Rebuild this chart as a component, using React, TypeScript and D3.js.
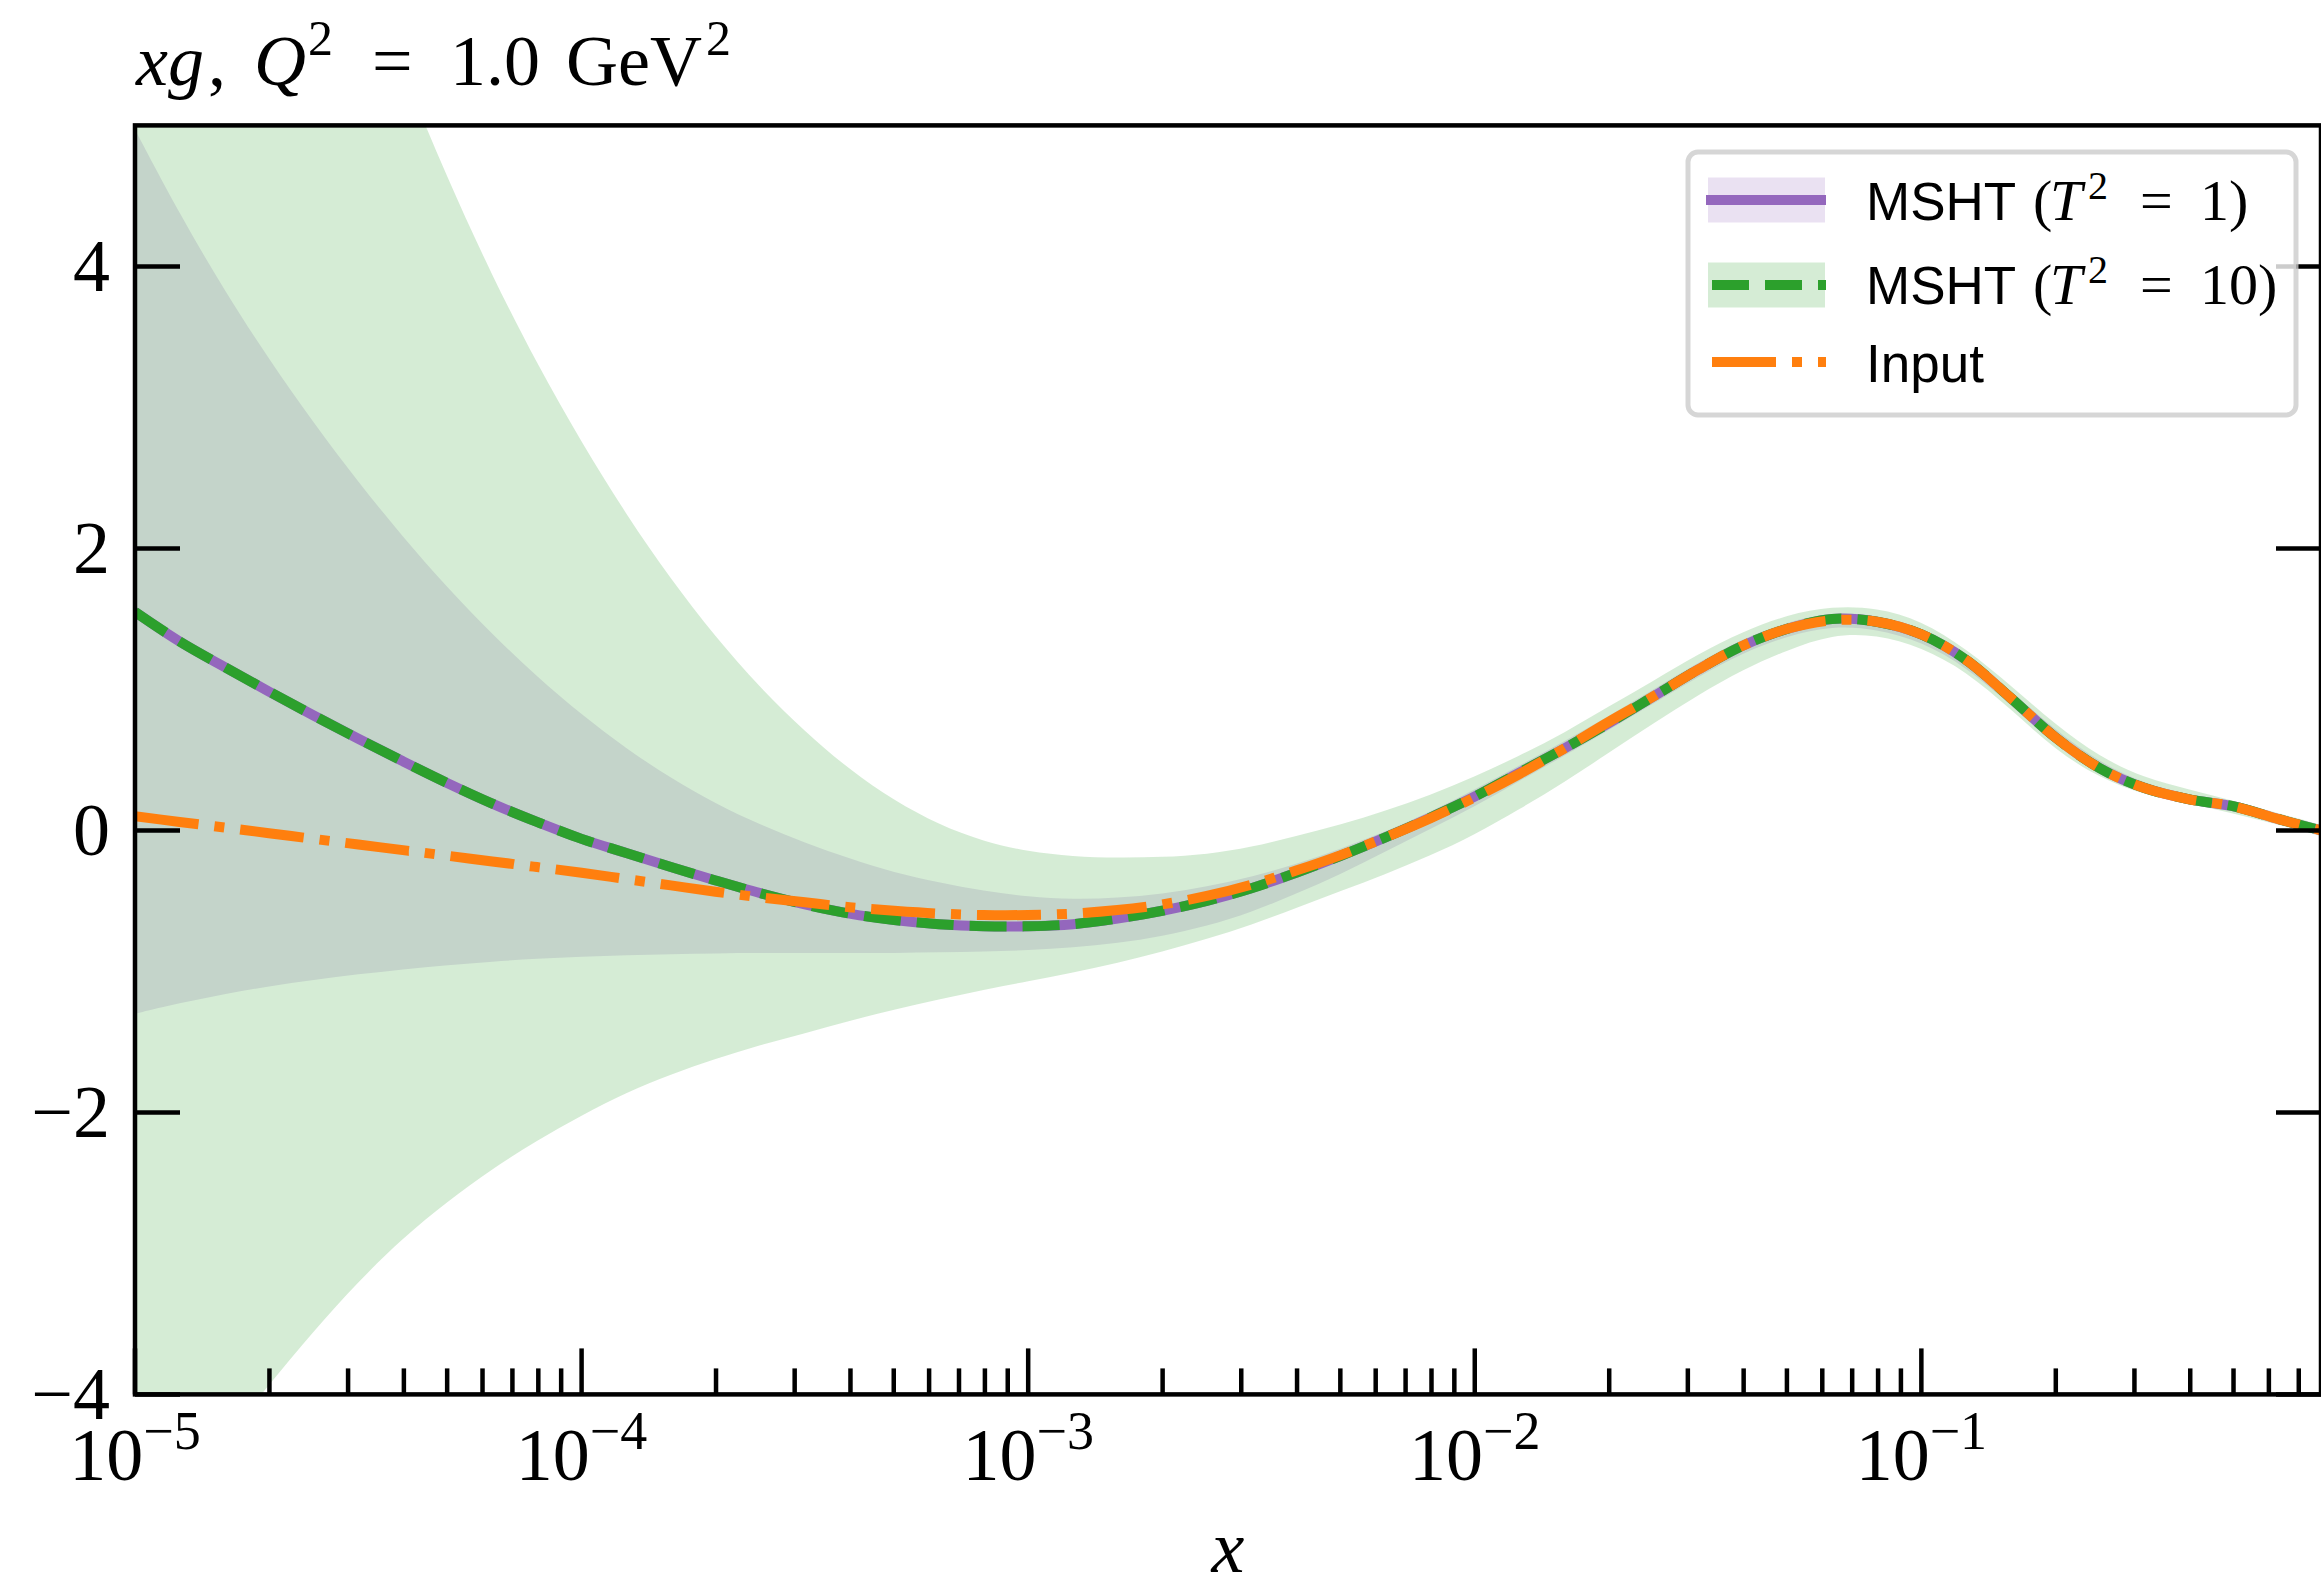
import React, { useRef, useEffect } from "react";
import * as d3 from "d3";

// figure size (px)
const W = 2321;
const H = 1596;
const plotLeft = 135;
const plotRight = 2321;
const plotTop = 125.4;
const plotBottom = 1394.4;

const xDomain = [1e-5, 0.785];
const yDomain = [-4, 5];
const yTicks = [-4, -2, 0, 2, 4];
const xMajorExp = [-5, -4, -3, -2, -1];

// sample grid in log10(x)
const logX = [
  -5.0, -4.9, -4.8, -4.7, -4.6, -4.5, -4.4, -4.3, -4.2, -4.1,
  -4.0, -3.9, -3.8, -3.7, -3.6, -3.5, -3.4, -3.3, -3.2, -3.1,
  -3.0, -2.9, -2.8, -2.7, -2.6, -2.5, -2.4, -2.3, -2.2, -2.1,
  -2.0, -1.9, -1.8, -1.7, -1.6, -1.5, -1.4, -1.3, -1.2, -1.1,
  -1.0, -0.9, -0.8, -0.7, -0.6, -0.5, -0.4, -0.3, -0.2, -0.105,
];

// MSHT central value (same for T^2 = 1 and T^2 = 10)
const mshtCentral = [
  1.55, 1.34, 1.16, 0.985, 0.815, 0.65, 0.49, 0.335, 0.19, 0.06,
  -0.06, -0.16, -0.26, -0.355, -0.445, -0.525, -0.59, -0.635, -0.665, -0.68,
  -0.68, -0.665, -0.625, -0.57, -0.5, -0.41, -0.3, -0.18, -0.05, 0.09,
  0.24, 0.41, 0.58, 0.76, 0.95, 1.14, 1.31, 1.43, 1.5, 1.48,
  1.39, 1.21, 0.94, 0.66, 0.44, 0.3, 0.22, 0.17, 0.08, 0.0,
];

// T^2 = 1 band
const t1Low = [
  -1.3, -1.225, -1.16, -1.105, -1.06, -1.02, -0.985, -0.955, -0.93, -0.91,
  -0.895, -0.885, -0.877, -0.872, -0.87, -0.87, -0.87, -0.87, -0.865, -0.86,
  -0.85, -0.83, -0.8, -0.75, -0.68, -0.58, -0.45, -0.31, -0.15, 0.01,
  0.17, 0.35, 0.53, 0.71, 0.9, 1.09, 1.26, 1.38, 1.45, 1.43,
  1.34, 1.16, 0.89, 0.61, 0.4, 0.27, 0.19, 0.14, 0.05, -0.03,
];
const t1High = [
  4.97, 4.37, 3.83, 3.34, 2.89, 2.47, 2.08, 1.72, 1.39, 1.09,
  0.82, 0.58, 0.37, 0.19, 0.04, -0.09, -0.2, -0.3, -0.37, -0.43,
  -0.47, -0.49, -0.48, -0.45, -0.4, -0.33, -0.24, -0.13, -0.01, 0.13,
  0.29, 0.46, 0.63, 0.81, 1.0, 1.19, 1.36, 1.48, 1.55, 1.53,
  1.44, 1.26, 0.99, 0.71, 0.48, 0.33, 0.25, 0.2, 0.11, 0.03,
];

// T^2 = 10 band
const t10Low = [
  -5.2, -4.75, -4.33, -3.93, -3.55, -3.2, -2.89, -2.63, -2.4, -2.2,
  -2.02, -1.86, -1.73, -1.62, -1.52, -1.44, -1.35, -1.27, -1.2, -1.13,
  -1.07, -1.01, -0.94, -0.86, -0.77, -0.67, -0.55, -0.43, -0.31, -0.18,
  -0.03, 0.15, 0.34, 0.55, 0.76, 0.96, 1.14, 1.28, 1.39, 1.39,
  1.3, 1.13, 0.86, 0.57, 0.37, 0.25, 0.19, 0.12, 0.04, -0.04,
];
const t10High = [
  11.4, 10.2, 9.12, 8.08, 7.11, 6.21, 5.38, 4.62, 3.93, 3.31,
  2.75, 2.24, 1.78, 1.37, 1.01, 0.7, 0.43, 0.21, 0.04, -0.08,
  -0.15, -0.185, -0.195, -0.19, -0.17, -0.12, -0.04, 0.04, 0.14, 0.25,
  0.38, 0.53, 0.69, 0.88, 1.06, 1.25, 1.41, 1.53, 1.59, 1.58,
  1.49, 1.29, 1.03, 0.75, 0.52, 0.37, 0.29, 0.21, 0.12, 0.04,
];

// input PDF
const inputPdf = [
  0.1, 0.06, 0.02, -0.02, -0.06, -0.1, -0.14, -0.18, -0.22, -0.26,
  -0.3, -0.345, -0.39, -0.435, -0.475, -0.51, -0.545, -0.57, -0.59, -0.6,
  -0.6, -0.59, -0.565, -0.525, -0.465, -0.385, -0.285, -0.175, -0.05, 0.085,
  0.235, 0.4, 0.58, 0.77, 0.95, 1.14, 1.31, 1.43, 1.49, 1.48,
  1.39, 1.21, 0.94, 0.66, 0.44, 0.3, 0.22, 0.17, 0.08, 0.0,
];

const PURPLE = "#9467bd";
const GREEN = "#2ca02c";
const ORANGE = "#ff7f0e";
const SERIF = "'Liberation Serif', 'DejaVu Serif', serif";
const SANS = "'Liberation Sans', Arial, sans-serif";

const App = () => {
  const svgRef = useRef(null);

  useEffect(() => {
    const svg = d3.select(svgRef.current);
    svg.selectAll("*").remove();

    const x = d3.scaleLog().domain(xDomain).range([plotLeft, plotRight]);
    const y = d3.scaleLinear().domain(yDomain).range([plotBottom, plotTop]);
    const xs = logX.map((l) => Math.pow(10, l));

    svg.append("defs")
      .append("clipPath")
      .attr("id", "plotclip")
      .append("rect")
      .attr("x", plotLeft)
      .attr("y", plotTop)
      .attr("width", plotRight - plotLeft)
      .attr("height", plotBottom - plotTop);

    const plot = svg.append("g").attr("clip-path", "url(#plotclip)");

    const band = (lo, hi) =>
      d3.area()
        .x((d, i) => x(xs[i]))
        .y0((d, i) => y(lo[i]))
        .y1((d, i) => y(hi[i]))
        .curve(d3.curveBasis)(xs);

    const line = (vals) =>
      d3.line()
        .x((d, i) => x(xs[i]))
        .y((d, i) => y(vals[i]))
        .curve(d3.curveCatmullRom)(xs);

    plot.append("path").attr("d", band(t1Low, t1High))
      .attr("fill", PURPLE).attr("fill-opacity", 0.2);
    plot.append("path").attr("d", band(t10Low, t10High))
      .attr("fill", GREEN).attr("fill-opacity", 0.2);

    plot.append("path").attr("d", line(mshtCentral))
      .attr("fill", "none").attr("stroke", PURPLE).attr("stroke-width", 10);
    plot.append("path").attr("d", line(mshtCentral))
      .attr("fill", "none").attr("stroke", GREEN).attr("stroke-width", 10)
      .attr("stroke-dasharray", "37,16");
    plot.append("path").attr("d", line(inputPdf))
      .attr("fill", "none").attr("stroke", ORANGE).attr("stroke-width", 10)
      .attr("stroke-dasharray", "64,16,10,16");

    // ticks (inward)
    const ticks = svg.append("g").attr("stroke", "black").attr("stroke-width", 4.5);
    yTicks.forEach((t) => {
      ticks.append("line").attr("x1", plotLeft).attr("x2", plotLeft + 45)
        .attr("y1", y(t)).attr("y2", y(t));
      ticks.append("line").attr("x1", plotRight - 45).attr("x2", plotRight)
        .attr("y1", y(t)).attr("y2", y(t));
    });
    xMajorExp.forEach((e) => {
      const px = x(Math.pow(10, e));
      ticks.append("line").attr("x1", px).attr("x2", px)
        .attr("y1", plotBottom).attr("y2", plotBottom - 46);
      for (let k = 2; k <= 9; k++) {
        const v = k * Math.pow(10, e);
        if (v > xDomain[1]) break;
        ticks.append("line").attr("x1", x(v)).attr("x2", x(v))
          .attr("y1", plotBottom).attr("y2", plotBottom - 26);
      }
    });

    // frame
    svg.append("rect")
      .attr("x", plotLeft).attr("y", plotTop)
      .attr("width", plotRight - plotLeft).attr("height", plotBottom - plotTop)
      .attr("fill", "none").attr("stroke", "black").attr("stroke-width", 4.5);

    // y tick labels
    yTicks.forEach((t) => {
      svg.append("text")
        .attr("x", plotLeft - 25).attr("y", y(t) + 25)
        .attr("text-anchor", "end")
        .attr("font-family", SERIF).attr("font-size", 74)
        .text(t < 0 ? "\u2212" + Math.abs(t) : String(t));
    });

    // x tick labels 10^e
    xMajorExp.forEach((e) => {
      const t = svg.append("text")
        .attr("x", x(Math.pow(10, e))).attr("y", 1480)
        .attr("text-anchor", "middle")
        .attr("font-family", SERIF).attr("font-size", 74);
      t.append("tspan").text("10");
      t.append("tspan").attr("font-size", 54).attr("dy", -31).text("\u2212" + Math.abs(e));
    });

    // axis label
    svg.append("text")
      .attr("x", (plotLeft + plotRight) / 2).attr("y", 1572)
      .attr("text-anchor", "middle")
      .attr("font-family", SERIF).attr("font-style", "italic").attr("font-size", 74)
      .text("x");

    // title
    const title = svg.append("text").attr("y", 85)
      .attr("font-family", SERIF).attr("font-size", 72);
    title.append("tspan").attr("x", 136).attr("font-style", "italic").text("xg");
    title.append("tspan").attr("x", 208).text(",");
    title.append("tspan").attr("x", 254).attr("font-style", "italic").text("Q");
    title.append("tspan").attr("x", 308).attr("y", 55).attr("font-size", 50).text("2");
    title.append("tspan").attr("x", 372).attr("y", 85).text("=");
    title.append("tspan").attr("x", 450).text("1.0");
    title.append("tspan").attr("x", 566).text("GeV");
    title.append("tspan").attr("x", 706).attr("y", 55).attr("font-size", 50).text("2");

    // legend
    const lg = svg.append("g");
    lg.append("rect")
      .attr("x", 1688).attr("y", 152).attr("width", 608).attr("height", 263)
      .attr("rx", 10).attr("ry", 10)
      .attr("fill", "white").attr("fill-opacity", 0.8)
      .attr("stroke", "#cccccc").attr("stroke-opacity", 0.8).attr("stroke-width", 5);

    const entries = [
      { cy: 200, base: 220, color: PURPLE, dash: null, patch: true, label: "1" },
      { cy: 285, base: 304, color: GREEN, dash: "37,16", patch: true, label: "10" },
      { cy: 362, base: 382, color: ORANGE, dash: "64,16,10,16", patch: false, label: null },
    ];
    entries.forEach((en) => {
      if (en.patch) {
        lg.append("rect").attr("x", 1708).attr("y", en.cy - 22.5)
          .attr("width", 117).attr("height", 45)
          .attr("fill", en.color).attr("fill-opacity", 0.2);
      }
      const l = lg.append("line")
        .attr("x1", en.dash ? 1712 : 1706).attr("x2", 1826)
        .attr("y1", en.cy).attr("y2", en.cy)
        .attr("stroke", en.color).attr("stroke-width", 10);
      if (en.dash) l.attr("stroke-dasharray", en.dash);

      if (en.label) {
        lg.append("text").attr("x", 1866).attr("y", en.base)
          .attr("font-family", SANS).attr("font-size", 53).text("MSHT");
        const m = lg.append("text").attr("y", en.base)
          .attr("font-family", SERIF).attr("font-size", 58);
        m.append("tspan").attr("x", 2033).text("(");
        m.append("tspan").attr("x", 2050).attr("font-style", "italic").text("T");
        m.append("tspan").attr("x", 2088).attr("y", en.base - 21).attr("font-size", 40).text("2");
        m.append("tspan").attr("x", 2140).attr("y", en.base).text("=");
        m.append("tspan").attr("x", 2200).text(en.label + ")");
      } else {
        lg.append("text").attr("x", 1866).attr("y", en.base)
          .attr("font-family", SANS).attr("font-size", 53).text("Input");
      }
    });
  }, []);

  return (
    <svg
      ref={svgRef}
      width={W}
      height={H}
      style={{ position: "absolute", left: 0, top: 0, background: "white" }}
    />
  );
};

export default App;
